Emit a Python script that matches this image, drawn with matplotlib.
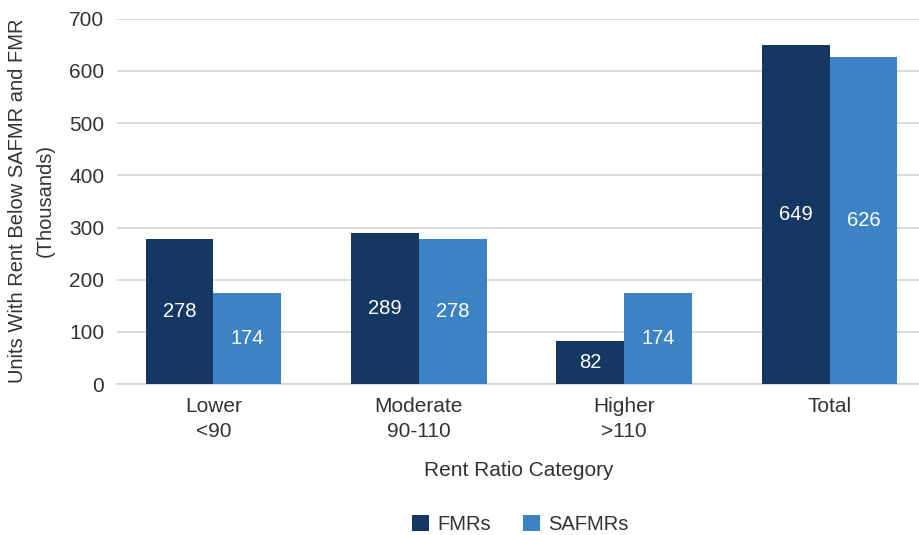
import numpy as np
import matplotlib.pyplot as plt

# rent ratio categories and unit counts (thousands)
categories = ["Lower\n<90", "Moderate\n90-110", "Higher\n>110", "Total"]
fmrs = [278, 289, 82, 649]
safmrs = [174, 278, 174, 626]

DARK = "#143861"
LIGHT = "#3b83c4"
TXT = "#333333"

plt.rcParams['font.family'] = ['Liberation Sans', 'DejaVu Sans']

fig = plt.figure(figsize=(9.2, 5.35), dpi=100)
ax = fig.add_axes([0.127, 0.282, 0.873, 0.683])

x = np.arange(len(categories))
w = 0.33
b1 = ax.bar(x - w / 2, fmrs, w, color=DARK, label="FMRs", zorder=3)
b2 = ax.bar(x + w / 2, safmrs, w, color=LIGHT, label="SAFMRs", zorder=3)

for bars, vals in ((b1, fmrs), (b2, safmrs)):
    for r, v in zip(bars, vals):
        ax.text(r.get_x() + r.get_width() / 2, v / 2, str(v),
                ha='center', va='center', color='white', fontsize=14.5, zorder=4)

ax.set_ylim(0, 700)
ax.set_yticks(range(0, 701, 100))
ax.set_xlim(-0.47, 3.44)
ax.set_xticks(x)
ax.set_xticklabels(categories, fontsize=15, color=TXT, linespacing=1.45)
ax.tick_params(axis='y', labelsize=15, labelcolor=TXT, length=0, pad=9)
ax.tick_params(axis='x', length=0, pad=9)

ax.grid(axis='y', color='#d4d4d4', linewidth=1.2, zorder=0)
for s in ('top', 'right', 'left'):
    ax.spines[s].set_visible(False)
ax.spines['bottom'].set_color('#d4d4d4')
ax.spines['bottom'].set_linewidth(1.2)

ax.set_xlabel("Rent Ratio Category", fontsize=15, color=TXT, labelpad=14)

# two-line y label, each line placed on its own
fig.text(18 / 920, 0.6243, "Units With Rent Below SAFMR and FMR", rotation=90,
         ha='center', va='center', fontsize=14.5, color=TXT)
fig.text(45 / 920, 0.6243, "(Thousands)", rotation=90,
         ha='center', va='center', fontsize=14.5, color=TXT)

fig.legend(handles=[b1, b2], loc='center', bbox_to_anchor=(0.566, 0.02),
           ncol=2, frameon=False, fontsize=14.5, handlelength=0.8,
           handleheight=0.8, columnspacing=1.6, handletextpad=0.45,
           labelcolor=TXT)

fig.savefig("out.png", dpi=100)
